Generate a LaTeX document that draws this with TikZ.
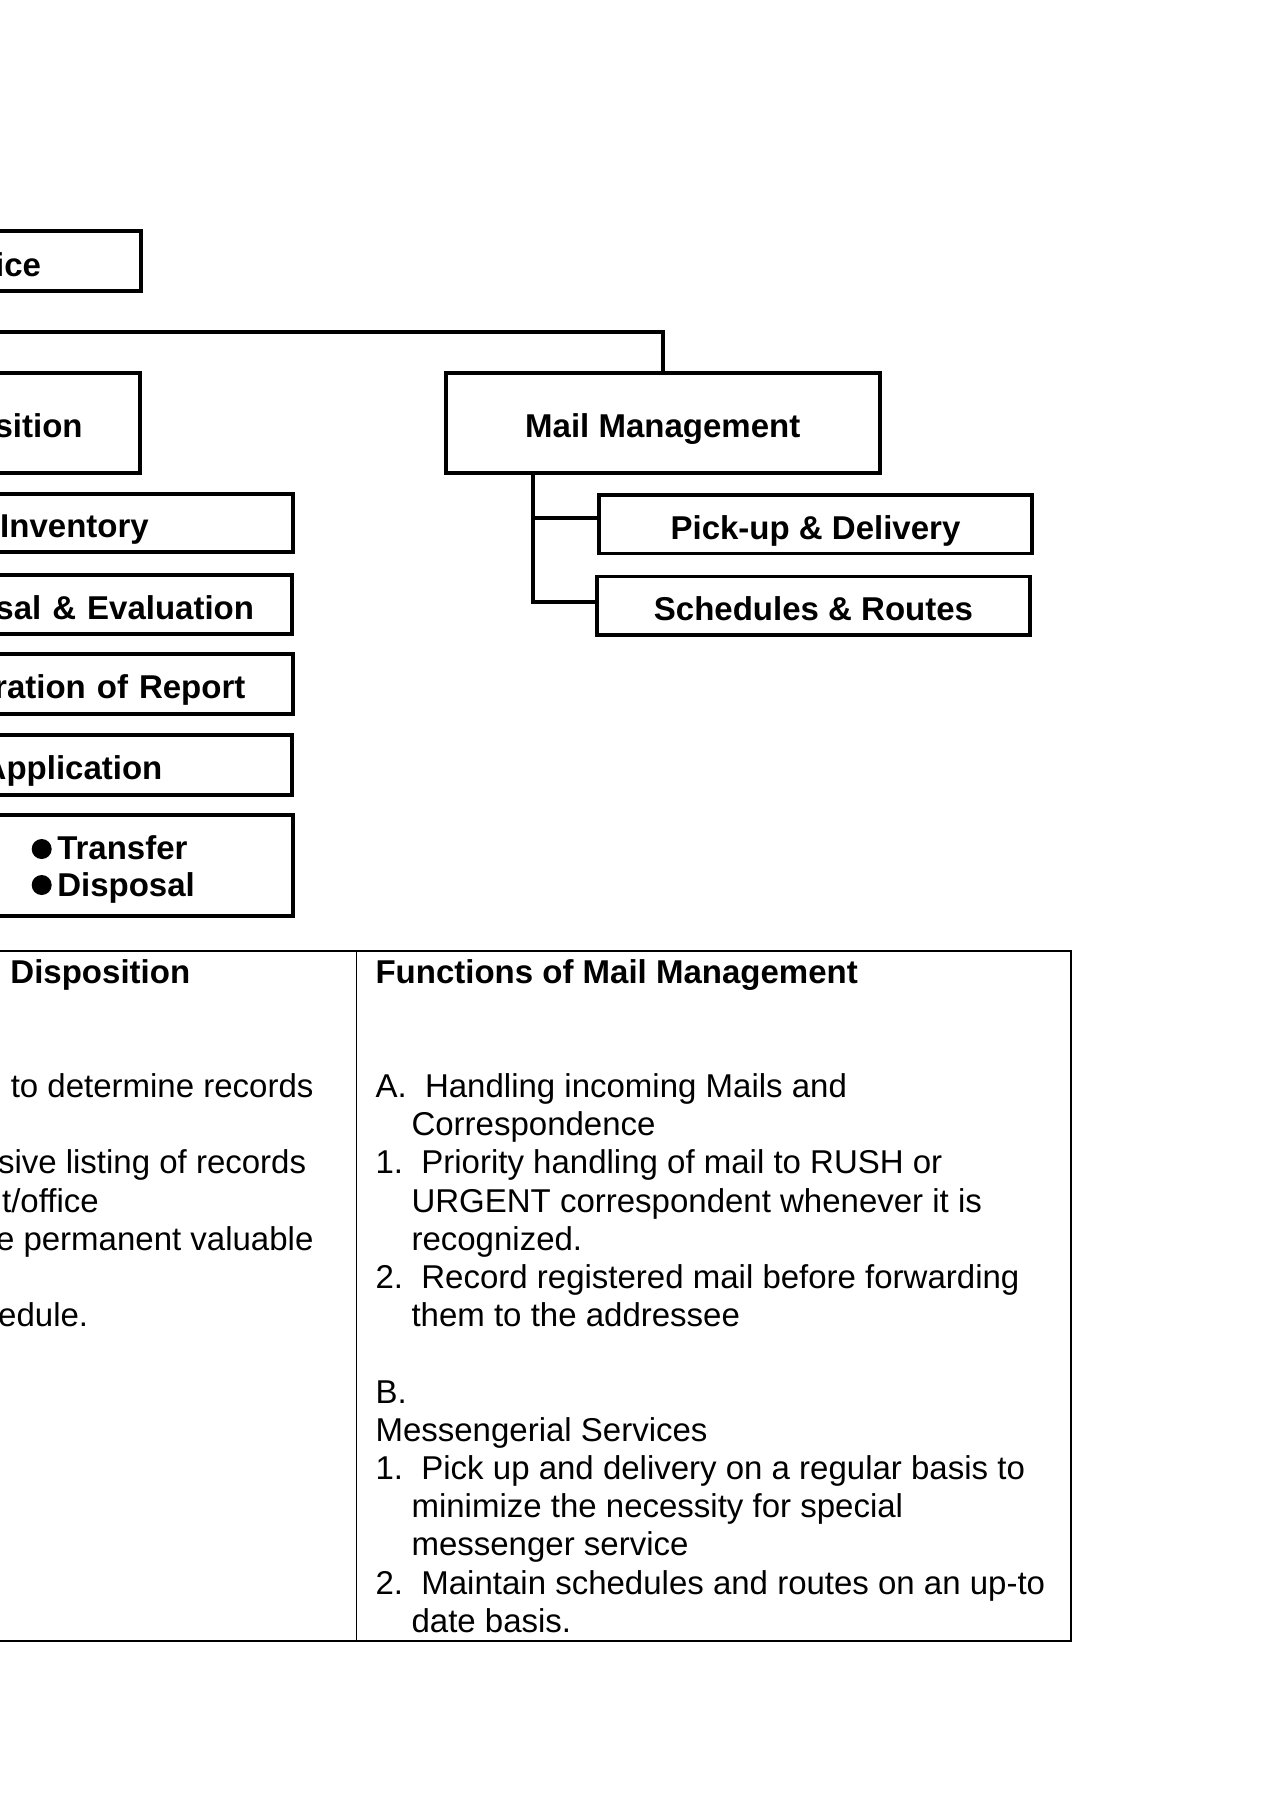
\documentclass[tikz,border=0pt]{standalone}
\usepackage{fontspec}
\setmainfont{Liberation Sans}
\usetikzlibrary{calc}

% one pixel of the page
\newlength{\pxl}
\setlength{\pxl}{0.3636pt}
\newcommand{\bodyfont}{\fontsize{12}{14}\selectfont\frenchspacing}

\tikzset{
  box/.style={draw, line width=1.4pt, inner sep=0pt, text height=30\pxl, text depth=0pt, font=\bodyfont\bfseries},
  cutbox/.style={box, anchor=east, text width=400\pxl, align=right},
  conn/.style={line width=1.4pt},
  cell/.style={line width=0.5pt},
  rowtext/.style={inner sep=0pt, font=\bodyfont},
  headtext/.style={inner sep=0pt, font=\bodyfont\bfseries},
}

\begin{document}
\begin{tikzpicture}[x=\pxl, y=-\pxl]

\useasboundingbox (0,0) rectangle (1272,1800);
\fill[white] (0,0) rectangle (1272,1800);

% Boxes cut at the left edge
\node[cutbox, inner xsep=99.8\pxl, minimum height=59.4\pxl] (office) at (142.7,261) {ice};
\node[cutbox, inner xsep=57.4\pxl, minimum height=100.3\pxl] (dispo) at (141.9,422.85) {sition};
\node[cutbox, inner xsep=144.5\pxl, minimum height=58.3\pxl] (inv) at (295.2,522.85) {Inventory};
\node[cutbox, inner xsep=37.5\pxl, minimum height=59.3\pxl] (eval) at (293.5,604.35) {sal \& Evaluation};
\node[cutbox, inner xsep=47.9\pxl, minimum height=60.3\pxl] (report) at (295.2,683.85) {ration of Report};
\node[cutbox, inner xsep=129.2\pxl, minimum height=60\pxl] (appl) at (293.5,764.7) {Application};
\node[box, anchor=east, minimum width=700\pxl, minimum height=101.6\pxl] (trans) at (295.2,865.5) {};

% Transfer / Disposal
\fill (41.7,849) circle (10);
\fill (41.7,885) circle (10);
\node[headtext, anchor=base west] (transfer) at (56.7,859.3) {Transfer};
\node[headtext, anchor=base west] (disposal) at (56.7,896.7) {Disposal};

% Mail Management branch
\node[box, minimum width=434.1\pxl, minimum height=100\pxl] (mail) at (662.75,422.7) {Mail Management};
\node[box, minimum width=433\pxl, minimum height=58.5\pxl] (pick) at (815.5,524.25) {Pick-up \& Delivery};
\node[box, minimum width=433\pxl, minimum height=58.5\pxl] (sched) at (813.5,605.75) {Schedules \& Routes};

% Connectors
\draw[conn] (office.south) -- ++(0,39.6) -| (mail.north);
\draw[conn] (mail.south -| 533,0) |- ($(pick.west)+(0,-6)$);
\draw[conn] (mail.south -| 533,0) |- ($(sched.west)+(0,-4)$);

% Table
\draw[cell] (-5,951) rectangle (1071,1641);
\draw[cell] (356.3,951) -- (356.3,1641);

\node[headtext, anchor=base east] (dhead) at (190.7,983.5) {Disposition};
\node[headtext, anchor=base west] (fhead) at (375,983.5) {Functions of Mail Management};

% Left column
\node[rowtext, anchor=base east] (dl0) at (314,1097.5) {to determine records};
\node[rowtext, anchor=base east] (dl2) at (306.7,1173.9) {sive listing of records};
\node[rowtext, anchor=base east] (dl3) at (99.3,1212.1) {t/office};
\node[rowtext, anchor=base east] (dl4) at (314,1250.3) {e permanent valuable};
\node[rowtext, anchor=base east] (dl6) at (88.7,1326.7) {edule.};

% Right column
\foreach \n/\dx/\t in {
  0/0/{A.\ \ Handling incoming Mails and},
  1/36/{Correspondence},
  2/0/{1.\ \ Priority handling of mail to RUSH or},
  3/36/{URGENT correspondent whenever it is},
  4/36/{recognized.},
  5/0/{2.\ \ Record registered mail before forwarding},
  6/36/{them to the addressee},
  8/0/{B.},
  9/0/{Messengerial Services},
  10/0/{1.\ \ Pick up and delivery on a regular basis to},
  11/36/{minimize the necessity for special},
  12/36/{messenger service},
  13/0/{2.\ \ Maintain schedules and routes on an up-to},
  14/36/{date basis.}}
  \node[rowtext, anchor=base west] (fn\n) at (375+\dx,1097.5+38.2*\n) {\t};

\end{tikzpicture}
\end{document}
